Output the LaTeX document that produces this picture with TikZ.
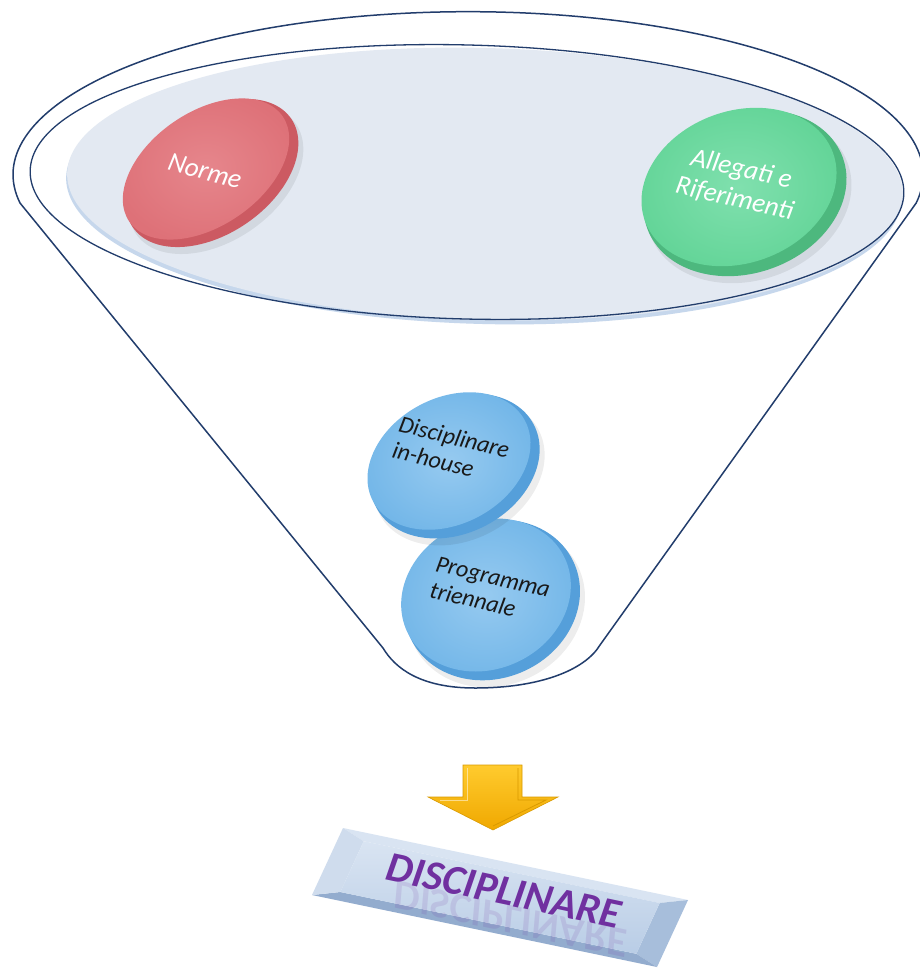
\documentclass[tikz,border=0pt]{standalone}
\usepackage{fontspec}
\setmainfont{Carlito}
\usetikzlibrary{shapes.geometric}
\definecolor{fline}{HTML}{223D6C}
\definecolor{innerfill}{HTML}{E3E9F2}
\definecolor{innerglow}{HTML}{C6D7EC}
\definecolor{redrim}{HTML}{CC5A62}
\definecolor{redface}{HTML}{DE7178}
\definecolor{redlight}{HTML}{E6868C}
\definecolor{greenrim}{HTML}{4DB87E}
\definecolor{greenface}{HTML}{62D497}
\definecolor{greenlight}{HTML}{80E0AE}
\definecolor{bluerim}{HTML}{559FDA}
\definecolor{blueface}{HTML}{72B6E8}
\definecolor{bluelight}{HTML}{96CAF0}
\definecolor{arrowtop}{HTML}{FFCB2E}
\definecolor{arrowbot}{HTML}{F0A800}
\definecolor{arrowedge}{HTML}{D99A00}
\definecolor{bannerface}{HTML}{B9CDE6}
\definecolor{bannerlight}{HTML}{D9E4F2}
\definecolor{bannerdark}{HTML}{93ACCE}
\definecolor{bannerside}{HTML}{A7BEDB}
\definecolor{discipl}{HTML}{7030A0}
\tikzset{
  funnel/.style={draw=fline, line width=1.5pt},
  discshape/.style={ellipse, inner sep=0pt},
  discshadow/.style={ellipse, inner sep=0pt, fill=black, opacity=0.07},
  whitetext/.style={text=white, font=\itshape\fontsize{27}{30}\selectfont, align=center},
  darktext/.style={text=black!90, font=\itshape\fontsize{24}{27}\selectfont, align=left},
  bannertext/.style={rotate=-12, text=discipl, font=\bfseries\itshape\fontsize{42}{42}\selectfont},
}
\begin{document}
\begin{tikzpicture}[x=1pt,y=-1pt]
\useasboundingbox[fill=white] (0,0) rectangle (920,974);

% funnel outline
\draw[funnel, fill=white] (20,203) arc[start angle=190, end angle=-10, x radius=455pt, y radius=163pt]
  -- (600,645) .. controls (585,670) and (540,688) .. (475,688)
  .. controls (420,688) and (395,668) .. (383,648) -- cycle;

% inner ellipse (mouth)
\fill[innerglow, rotate around={-1.5:(484,188)}] (484,188) ellipse [x radius=418pt, y radius=136pt];
\fill[innerfill, rotate around={-1.5:(485,184)}] (485,184) ellipse [x radius=418pt, y radius=136pt];
\draw[funnel, line width=1.3pt, rotate around={-1.5:(467,182)}] (467,182) ellipse [x radius=437pt, y radius=137pt];

% Norme disc
\node[discshadow, minimum width=194pt, minimum height=124pt, rotate=34.5] (normeshadow) at (216,179) {};
\node[discshape, minimum width=192pt, minimum height=122pt, rotate=34.5, fill=redrim] (normerim) at (212,173) {};
\node[discshape, minimum width=186pt, minimum height=114pt, rotate=34.5, inner color=redlight, outer color=redface] (normeface) at (206,169) {};
\node[whitetext, rotate=-15] (normetext) at (205,171) {Norme};

% Allegati disc
\node[discshadow, minimum width=210pt, minimum height=162pt, rotate=20] (allshadow) at (749,199) {};
\node[discshape, minimum width=208pt, minimum height=160pt, rotate=20, fill=greenrim] (allrim) at (745,193) {};
\node[discshape, minimum width=200pt, minimum height=152pt, rotate=20, inner color=greenlight, outer color=greenface] (allface) at (739,187) {};
\node[whitetext, rotate=-13] (alltext) at (738,184) {Allegati e\\Riferimenti};

% Programma triennale disc
\node[discshadow, minimum width=182pt, minimum height=158pt, rotate=25] (progshadow) at (496,606) {};
\node[discshape, minimum width=180pt, minimum height=156pt, rotate=25, fill=bluerim] (progrim) at (492,600) {};
\node[discshape, minimum width=174pt, minimum height=148pt, rotate=25, inner color=bluelight, outer color=blueface] (progface) at (486,595) {};
\node[darktext, rotate=-13] (progtext) at (490,590) {Programma\\triennale};

% Disciplinare in-house disc
\node[discshadow, minimum width=180pt, minimum height=136pt, rotate=28] (dihshadow) at (459,472) {};
\node[discshape, minimum width=178pt, minimum height=134pt, rotate=28, fill=bluerim] (dihrim) at (455,466) {};
\node[discshape, minimum width=172pt, minimum height=126pt, rotate=28, inner color=bluelight, outer color=blueface] (dihface) at (449,461) {};
\node[darktext, rotate=-14] (dihtext) at (451,450) {Disciplinare\\in-house};

% yellow arrow
\coordinate (a1) at (463,765);
\coordinate (a2) at (522,765);
\coordinate (a3) at (522,797);
\coordinate (a4) at (558,797);
\coordinate (a5) at (493,830);
\coordinate (a6) at (428,797);
\coordinate (a7) at (463,797);
\shade[top color=arrowtop, bottom color=arrowbot, draw=arrowedge, line width=0.6pt]
  (a1) -- (a2) -- (a3) -- (a4) -- (a5) -- (a6) -- (a7) -- cycle;
\draw[white, opacity=0.5, line width=0.8pt] (467,768) -- (467,800) -- (440,800);
\draw[arrowedge, line width=0.8pt] (518,768) -- (518,800) -- (546,800) -- (493,826);

% banner
\coordinate (bTL) at (343,828);
\coordinate (bTR) at (688,900);
\coordinate (bBR) at (657,967);
\coordinate (bBL) at (312,895);
\coordinate (fTL) at (363.7,841.2);
\coordinate (fTR) at (659.7,903);
\coordinate (fBR) at (636.3,953.8);
\coordinate (fBL) at (340.3,892);
\fill[bannerlight] (bTL) -- (bTR) -- (fTR) -- (fTL) -- cycle;
\fill[bannerside] (bTR) -- (bBR) -- (fBR) -- (fTR) -- cycle;
\fill[bannerdark] (bBR) -- (bBL) -- (fBL) -- (fBR) -- cycle;
\fill[bannerlight!80!bannerside] (bBL) -- (bTL) -- (fTL) -- (fBL) -- cycle;
\shade[top color=bannerlight, bottom color=bannerface] (fTL) -- (fTR) -- (fBR) -- (fBL) -- cycle;

\node[bannertext, opacity=0.13] (reflect) at (510,919) {\scalebox{1}[-1]{DISCIPLINARE}};
\node[bannertext] (banner) at (504,891) {DISCIPLINARE};
\end{tikzpicture}
\end{document}
